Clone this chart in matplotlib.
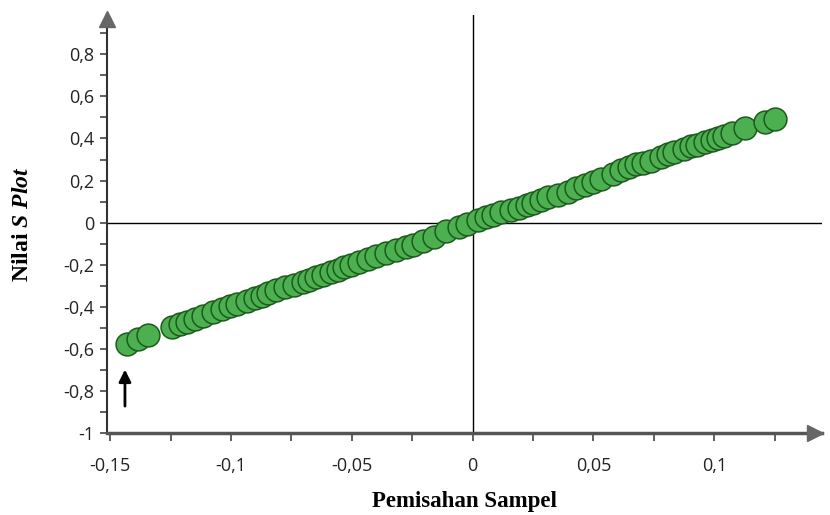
import matplotlib
matplotlib.use("Agg")
import matplotlib.pyplot as plt
from matplotlib.ticker import FixedLocator, FuncFormatter

# Data (x = sample separation, y = S-plot value)
sep = [-0.1430, -0.1385, -0.1343, -0.1244, -0.1210, -0.1181, -0.1148, -0.1115,
       -0.1073, -0.1036, -0.1003, -0.0974, -0.0932, -0.0899, -0.0870, -0.0845,
       -0.0812, -0.0775, -0.0741, -0.0704, -0.0679, -0.0650, -0.0621, -0.0588,
       -0.0559, -0.0534, -0.0505, -0.0472, -0.0434, -0.0401, -0.0360, -0.0318,
       -0.0277, -0.0248, -0.0206, -0.0161, -0.0111, -0.0057, -0.0024, 0.0022,
       0.0055, 0.0084, 0.0117, 0.0159, 0.0192, 0.0225, 0.0250, 0.0283,
       0.0312, 0.0354, 0.0395, 0.0429, 0.0466, 0.0499, 0.0532, 0.0582,
       0.0615, 0.0649, 0.0678, 0.0707, 0.0740, 0.0781, 0.0810, 0.0835,
       0.0873, 0.0906, 0.0927, 0.0960, 0.0989, 0.1014, 0.1039, 0.1072,
       0.1126, 0.1209, 0.1250]
splot = [-0.576, -0.552, -0.533, -0.495, -0.481, -0.472, -0.457, -0.443,
         -0.424, -0.410, -0.396, -0.386, -0.372, -0.358, -0.348, -0.334,
         -0.320, -0.305, -0.296, -0.282, -0.272, -0.258, -0.248, -0.234,
         -0.225, -0.210, -0.201, -0.187, -0.172, -0.158, -0.144, -0.130,
         -0.115, -0.106, -0.087, -0.068, -0.039, -0.020, -0.006, 0.013,
         0.027, 0.037, 0.051, 0.060, 0.070, 0.084, 0.094, 0.108,
         0.122, 0.132, 0.146, 0.165, 0.179, 0.193, 0.208, 0.231,
         0.250, 0.265, 0.279, 0.284, 0.293, 0.312, 0.326, 0.336,
         0.350, 0.364, 0.369, 0.383, 0.393, 0.402, 0.412, 0.426,
         0.450, 0.478, 0.493]

x_ticks = [-0.15, -0.1, -0.05, 0, 0.05, 0.1]
y_ticks = [-1, -0.8, -0.6, -0.4, -0.2, 0, 0.2, 0.4, 0.6, 0.8]
x_label = "Pemisahan Sampel"
y_label = r"$\mathrm{Nilai}\ \mathit{S\ Plot}$"

plt.rcParams['mathtext.fontset'] = 'custom'
plt.rcParams['mathtext.rm'] = 'Liberation Serif:bold'
plt.rcParams['mathtext.it'] = 'Liberation Serif:bold:italic'
plt.rcParams['mathtext.bf'] = 'Liberation Serif:bold'

fig = plt.figure(figsize=(8.3, 5.15), dpi=100)
ax = fig.add_axes([0.129, 0.159, 0.861, 0.812])

xmin, xmax = -0.1513, 0.1445
ymin, ymax = -1.0, 0.987
ax.set_xlim(xmin, xmax)
ax.set_ylim(ymin, ymax)

ax.axhline(0, color='black', lw=1.0, zorder=1)
ax.axvline(0, color='black', lw=1.0, zorder=1)

ax.scatter(sep, splot, s=270, facecolor='#4caf50', edgecolor='#1d5a1d',
           linewidth=1.1, zorder=3)

for side in ('top', 'right'):
    ax.spines[side].set_visible(False)
ax.spines['left'].set_color('#333333')
ax.spines['left'].set_linewidth(1.5)
ax.spines['bottom'].set_color('#555555')
ax.spines['bottom'].set_linewidth(2.5)

# arrow heads at the axis ends
ax.plot([0], [0.99], marker='^', ms=11, color='#666666', transform=ax.transAxes,
        clip_on=False, zorder=5)
ax.plot([0.99], [0], marker='>', ms=11, color='#666666', transform=ax.transAxes,
        clip_on=False, zorder=5)

fmt = FuncFormatter(lambda v, p: ('%g' % round(v, 3)).replace('.', ','))
ax.xaxis.set_major_locator(FixedLocator(x_ticks))
ax.yaxis.set_major_locator(FixedLocator(y_ticks))
ax.xaxis.set_minor_locator(FixedLocator([t + 0.025 for t in x_ticks]))
ax.yaxis.set_minor_locator(FixedLocator([t + 0.1 for t in y_ticks]))
ax.xaxis.set_major_formatter(fmt)
ax.yaxis.set_major_formatter(fmt)

ax.tick_params(axis='x', which='both', direction='out', length=6, width=1.2,
               color='#444444', pad=11, labelcolor='#222222')
ax.tick_params(axis='y', which='both', direction='out', length=5, width=1.2,
               color='#444444', pad=4, labelcolor='#222222')
for lab in ax.get_xticklabels() + ax.get_yticklabels():
    lab.set_fontfamily('Open Sans')
    lab.set_fontsize(13)

ax.set_xlabel(x_label, family='Liberation Serif', weight='bold', fontsize=16.5,
              labelpad=12)
ax.set_ylabel(y_label, fontsize=17, labelpad=22)

ax.annotate('', xy=(-0.1439, -0.685), xytext=(-0.1439, -0.885),
            arrowprops=dict(arrowstyle='-|>', color='black', lw=2,
                            mutation_scale=18))

fig.savefig('out.png', dpi=100)
